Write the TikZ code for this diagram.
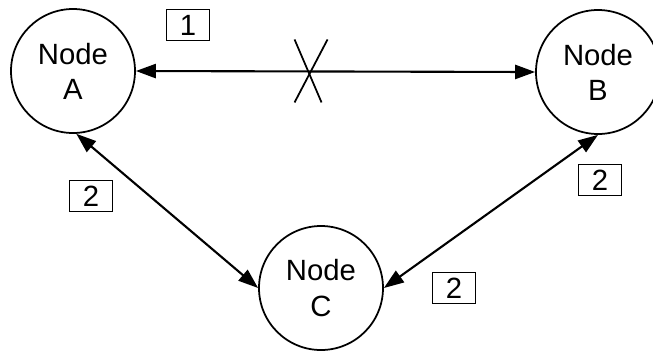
\documentclass[tikz,border=0pt]{standalone}
\usepackage{fontspec}
\setmainfont{Liberation Sans}
\usepackage{tikz}
\usetikzlibrary{arrows.meta,calc}

\begin{document}
\begin{tikzpicture}[every node/.style={font=\fontsize{25}{30}\selectfont}, x=0.03cm, y=-0.03cm,
	peer/.style={circle, draw, line width=1.5pt, minimum size=3.72cm, inner sep=0pt, align=center},
	tag/.style={rectangle, draw, line width=1.3pt, minimum width=1.3cm, minimum height=0.93cm, inner sep=0pt},
	link/.style={line width=1.8pt, {Triangle[length=17pt,width=12pt]}-{Triangle[length=17pt,width=12pt]}}]
	\useasboundingbox (0,0) rectangle (653,350);
	\node[peer] (nA) at (73,71) {Node\\A};
	\node[peer] (nB) at (598,72) {Node\\B};
	\node[peer] (nC) at (321,288) {Node\\C};
	\draw[link] (nA.east) -- (nB.west) coordinate[pos=0.435] (cut);
	\draw[link] (nA.-87) -- (nC.west);
	\draw[link] (nB.south) -- (nC.east);
	\draw[line width=1.5pt] ($(cut)+(-15,-32)$) -- ($(cut)+(12,31)$);
	\draw[line width=1.5pt] ($(cut)+(18,-32)$) -- ($(cut)+(-15,31)$);
	\node[tag] (t1) at (188,25) {1};
	\node[tag] (t2) at (91,196) {2};
	\node[tag] (t3) at (600,180) {2};
	\node[tag] (t4) at (454,288) {2};
\end{tikzpicture}
\end{document}
